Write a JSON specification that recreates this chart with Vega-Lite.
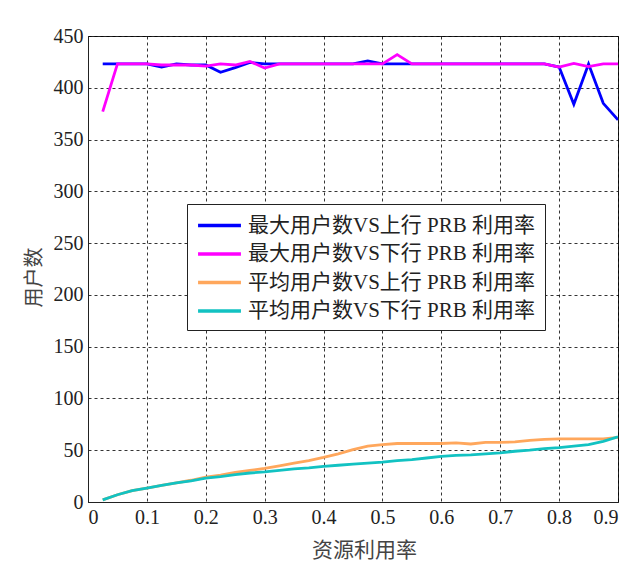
{
  "$schema": "https://vega.github.io/schema/vega-lite/v6.json",
  "width": 530,
  "height": 466,
  "autosize": {"type": "none"},
  "padding": {"left": 88, "top": 36, "right": 20, "bottom": 77},
  "background": "white",
  "data": {
    "values": [
      {"x": 0.025, "a": 423, "b": 377, "c": 2, "d": 2},
      {"x": 0.05, "a": 423, "b": 423, "c": 7, "d": 7},
      {"x": 0.075, "a": 423, "b": 423, "c": 11, "d": 11},
      {"x": 0.1, "a": 423, "b": 423, "c": 13.5, "d": 13.5},
      {"x": 0.125, "a": 420, "b": 422, "c": 16, "d": 16},
      {"x": 0.15, "a": 423, "b": 422, "c": 18.5, "d": 18.5},
      {"x": 0.175, "a": 422, "b": 422, "c": 21, "d": 20.5},
      {"x": 0.2, "a": 422, "b": 421, "c": 24, "d": 23},
      {"x": 0.225, "a": 415, "b": 423, "c": 26, "d": 24.5},
      {"x": 0.25, "a": 419.5, "b": 422, "c": 28.5, "d": 26.5},
      {"x": 0.275, "a": 424.5, "b": 425.5, "c": 30.5, "d": 28},
      {"x": 0.3, "a": 423, "b": 419, "c": 32.5, "d": 29},
      {"x": 0.325, "a": 423, "b": 423, "c": 35, "d": 30.5},
      {"x": 0.35, "a": 423, "b": 423, "c": 37.5, "d": 32},
      {"x": 0.375, "a": 423, "b": 423, "c": 40, "d": 33},
      {"x": 0.4, "a": 423, "b": 423, "c": 43, "d": 34.5},
      {"x": 0.425, "a": 423, "b": 423, "c": 46.5, "d": 35.5},
      {"x": 0.45, "a": 423, "b": 423, "c": 50.5, "d": 36.5},
      {"x": 0.475, "a": 426, "b": 423, "c": 54, "d": 37.5},
      {"x": 0.5, "a": 423, "b": 423, "c": 55.5, "d": 38.5},
      {"x": 0.525, "a": 423, "b": 432, "c": 56.5, "d": 40},
      {"x": 0.55, "a": 423, "b": 423, "c": 56.5, "d": 41},
      {"x": 0.575, "a": 423, "b": 423, "c": 56.5, "d": 42.5},
      {"x": 0.6, "a": 423, "b": 423, "c": 56.5, "d": 44},
      {"x": 0.625, "a": 423, "b": 423, "c": 57, "d": 45},
      {"x": 0.65, "a": 423, "b": 423, "c": 56, "d": 45.5},
      {"x": 0.675, "a": 423, "b": 423, "c": 57.5, "d": 46.5},
      {"x": 0.7, "a": 423, "b": 423, "c": 57.5, "d": 47.5},
      {"x": 0.725, "a": 423, "b": 423, "c": 58, "d": 49},
      {"x": 0.75, "a": 423, "b": 423, "c": 59.5, "d": 50},
      {"x": 0.775, "a": 423, "b": 423, "c": 60.5, "d": 51.5},
      {"x": 0.8, "a": 420, "b": 420, "c": 61, "d": 52.5},
      {"x": 0.825, "a": 384, "b": 423.5, "c": 61, "d": 54},
      {"x": 0.85, "a": 423, "b": 420.5, "c": 61, "d": 55.5},
      {"x": 0.875, "a": 385, "b": 423, "c": 61, "d": 58.5},
      {"x": 0.9, "a": 369, "b": 423, "c": 62.5, "d": 63}
    ]
  },
  "transform": [
    {"fold": ["a", "b", "c", "d"], "as": ["k", "v"]}
  ],
  "mark": {"type": "line", "strokeWidth": 2.8, "clip": true},
  "encoding": {
    "x": {
      "field": "x", "type": "quantitative",
      "scale": {"domain": [0, 0.9], "nice": false, "zero": false},
      "axis": {"values": [0, 0.1, 0.2, 0.3, 0.4, 0.5, 0.6, 0.7, 0.8, 0.9], "format": ".1~f", "title": "资源利用率", "titlePadding": 12, "titleFontSize": 21, "titleX": 276}
    },
    "y": {
      "field": "v", "type": "quantitative",
      "scale": {"domain": [0, 450], "nice": false},
      "axis": {"values": [0, 50, 100, 150, 200, 250, 300, 350, 400, 450], "title": "用户数", "titlePadding": 9, "titleFontSize": 20, "titleY": 241}
    },
    "color": {
      "field": "k", "type": "nominal",
      "scale": {"domain": ["a", "b", "c", "d"], "range": ["#0000ff", "#ff00ff", "#ffa75c", "#12c2c2"]},
      "legend": {
        "title": null,
        "orient": "none",
        "legendX": 99,
        "legendY": 168,
        "labelExpr": "datum.value == 'a' ? '最大用户数VS上行 PRB 利用率' : datum.value == 'b' ? '最大用户数VS下行 PRB 利用率' : datum.value == 'c' ? '平均用户数VS上行 PRB 利用率' : '平均用户数VS下行 PRB 利用率'",
        "symbolType": "M-2,0H2",
        "symbolSize": 460,
        "symbolStrokeWidth": 3.5,
        "symbolOffset": 11,
        "labelFont": "Times New Roman, Liberation Serif, Noto Sans CJK SC, serif",
        "labelFontSize": 21,
        "labelLimit": 0,
        "labelColor": "#222",
        "labelOffset": 16,
        "rowPadding": 5.5,
        "padding": 9,
        "strokeColor": "#222",
        "fillColor": "white"
      }
    }
  },
  "config": {
    "view": {"stroke": "#222", "strokeWidth": 1},
    "axis": {
      "grid": true,
      "gridColor": "#000",
      "gridOpacity": 1,
      "gridDash": [3, 3],
      "gridWidth": 0.8,
      "domainColor": "#222",
      "domainWidth": 1,
      "ticks": false,
      "labelPadding": 5,
      "labelFont": "Times New Roman, Liberation Serif, serif",
      "labelFontSize": 20,
      "labelColor": "#222",
      "titleFont": "Noto Sans CJK SC",
      "titleFontWeight": "normal",
      "titleColor": "#444"
    }
  }
}
